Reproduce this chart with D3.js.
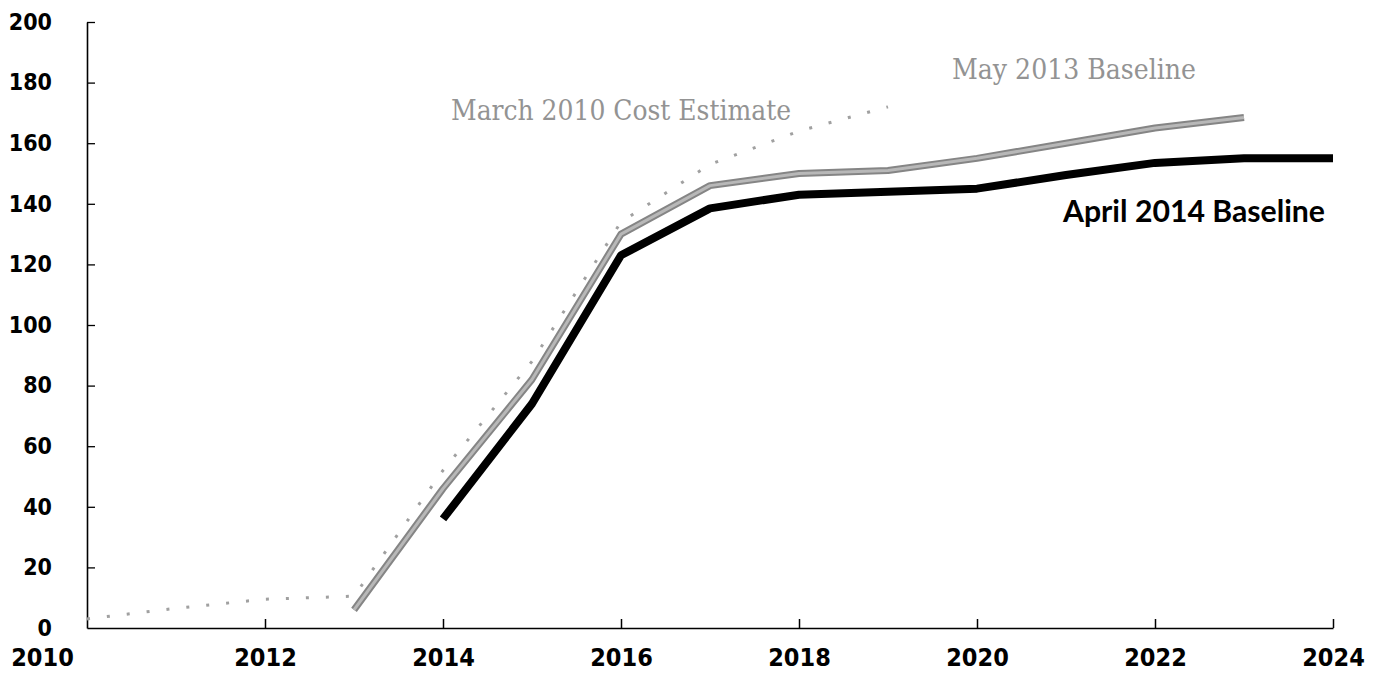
<!DOCTYPE html>
<html>
<head>
<meta charset="utf-8">
<script src="https://cdn.jsdelivr.net/npm/d3@7"></script>
<style>
  body { margin: 0; background: #fff; }
  svg { display: block; }
  .tick line, .domain { stroke: #000; }
</style>
</head>
<body>
<svg id="chart"></svg>
<script>
// March 2010 cost estimate (dotted)
let estYears = [2010, 2011, 2012, 2013, 2014, 2015, 2016, 2017, 2018, 2019]
let estValues = [3, 6.5, 9.5, 10.5, 52, 88, 134, 153, 164, 172]

// May 2013 baseline (gray)
let may13Years = [2013, 2014, 2015, 2016, 2017, 2018, 2019, 2020, 2021, 2022, 2023]
let may13Values = [6, 46, 82, 130, 146, 150, 151, 155, 160, 165, 168.5]

// April 2014 baseline (black)
let apr14Years = [2014, 2015, 2016, 2017, 2018, 2019, 2020, 2021, 2022, 2023, 2024]
let apr14Values = [36, 74, 123, 138.5, 143, 144, 145, 149.5, 153.5, 155, 155]

let xTicks = [2010, 2012, 2014, 2016, 2018, 2020, 2022, 2024]
let yTicks = [0, 20, 40, 60, 80, 100, 120, 140, 160, 180, 200]

let w = 1377, h = 691

let svg = d3.select("#chart")
    .attr("width", w)
    .attr("height", h)

let x = d3.scaleLinear().domain([2010, 2024]).range([87, 1333])
let y = d3.scaleLinear().domain([0, 200]).range([628, 22])

let numFont = "'DejaVu Sans Condensed', 'DejaVu Sans', sans-serif"

// y axis, ticks pointing inward
let yAxis = d3.axisLeft(y)
    .tickValues(yTicks)
    .tickSizeInner(-8)
    .tickSizeOuter(0)
    .tickPadding(35)

let gy = svg.append("g")
    .attr("transform", "translate(" + x(2010) + ",0)")
    .call(yAxis)
gy.select(".domain").attr("stroke-width", 1.6)
gy.selectAll(".tick line").attr("stroke-width", 1.3)
gy.selectAll(".tick").filter(d => d == 0).select("line").remove()
gy.selectAll("text")
    .style("font-family", numFont)
    .style("font-weight", "bold")
    .style("font-size", "23px")
    .attr("fill", "#000")

// x axis
let xAxis = d3.axisBottom(x)
    .tickValues(xTicks)
    .tickFormat(d3.format("d"))
    .tickSizeInner(-9)
    .tickSizeOuter(0)
    .tickPadding(20)

let gx = svg.append("g")
    .attr("transform", "translate(0," + y(0) + ")")
    .call(xAxis)
gx.select(".domain").attr("stroke-width", 1.6)
gx.selectAll(".tick line").attr("stroke-width", 1.5)
gx.selectAll(".tick").filter(d => d == 2010).select("line").remove()
gx.selectAll("text")
    .style("font-family", numFont)
    .style("font-weight", "bold")
    .style("font-size", "25px")
    .attr("fill", "#000")
    .attr("dx", d => d == 2010 ? -45 : 0)

function series(years, values) {
    return years.map((yr, i) => ({year: yr, value: values[i]}))
}

let line = d3.line()
    .x(d => x(d.year))
    .y(d => y(d.value))

// dotted estimate
svg.append("path")
    .datum(series(estYears, estValues))
    .attr("d", line)
    .attr("fill", "none")
    .attr("stroke", "#a0a0a0")
    .attr("stroke-width", 3)
    .attr("stroke-dasharray", "3 17")

// May 2013 baseline
svg.append("path")
    .datum(series(may13Years, may13Values))
    .attr("d", line)
    .attr("fill", "none")
    .attr("stroke", "#858585")
    .attr("stroke-width", 7)
    .attr("stroke-linejoin", "round")
svg.append("path")
    .datum(series(may13Years, may13Values))
    .attr("d", line)
    .attr("fill", "none")
    .attr("stroke", "#b8b8b8")
    .attr("stroke-width", 3)
    .attr("stroke-linejoin", "round")

// April 2014 baseline
svg.append("path")
    .datum(series(apr14Years, apr14Values))
    .attr("d", line)
    .attr("fill", "none")
    .attr("stroke", "#000")
    .attr("stroke-width", 8)
    .attr("stroke-linejoin", "round")

// series labels
let grayFont = "'DejaVu Serif Condensed', 'DejaVu Serif', serif"

svg.append("text")
    .attr("x", 451).attr("y", 120)
    .attr("textLength", 340)
    .attr("lengthAdjust", "spacingAndGlyphs")
    .style("font-family", grayFont)
    .style("font-size", "28px")
    .attr("fill", "#939393")
    .text("March 2010 Cost Estimate")

svg.append("text")
    .attr("x", 952).attr("y", 79)
    .attr("textLength", 244)
    .attr("lengthAdjust", "spacingAndGlyphs")
    .style("font-family", grayFont)
    .style("font-size", "28px")
    .attr("fill", "#939393")
    .text("May 2013 Baseline")

svg.append("text")
    .attr("x", 1063).attr("y", 222)
    .attr("textLength", 262)
    .attr("lengthAdjust", "spacingAndGlyphs")
    .style("font-family", "'Liberation Sans Narrow', Lato, sans-serif")
    .style("font-weight", "bold")
    .style("font-size", "31px")
    .attr("fill", "#000")
    .text("April 2014 Baseline")
</script>
</body>
</html>
